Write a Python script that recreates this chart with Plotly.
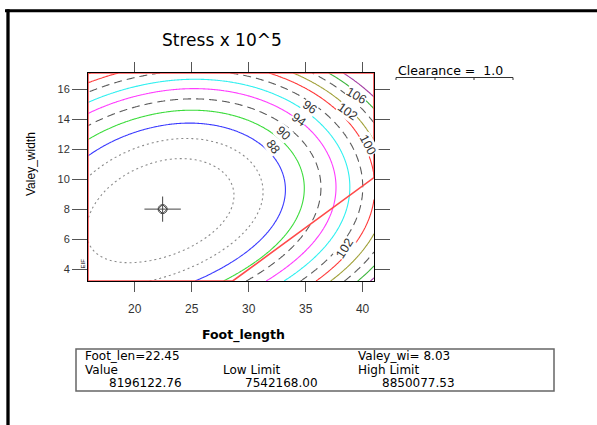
import numpy as np
import plotly.graph_objects as go

# ---------------- values ----------------
title_text = "Stress x 10^5"
x_title = "Foot_length"
y_title = "Valey_width"
x_range = [15.9, 41.0]
y_range = [3.24, 17.1]
x_ticks = [20, 25, 30, 35, 40]
y_ticks = [4, 6, 8, 10, 12, 14, 16]
clearance = 1.0

# flagged point (the optimum) and its read-out table
flag_foot_len = 22.45
flag_valey_wi = 8.03
flag_value = 8196122.76
flag_low = 7542168.00
flag_high = 8850077.53

# constraint line bounding the (red) design region
constraint_x = [28.6, 41.0]
constraint_y = [3.24, 10.13]

# contour levels (Stress x 10^5)
levels = [84, 86, 88, 90, 92, 94, 96, 98, 100, 102, 104, 106, 108]

# response model estimated from the traced contours:
# z = zmin + kx(dx)*dx^2 + ky(dx)*(y - ridge(dx))^2 ,  dx = x - x_opt
kx_left_right = [0.0454, 0.052]          # curvature along Foot_length (left / right of optimum)
ridge_coef = [0.179, -0.00545]           # valley centre line: linear, quadratic term
ky_coef = [0.194, 0.0035, -0.0001]       # curvature along Valey_width: const, linear, quadratic

# contour labels
label_levels = [88, 90, 96, 94, 102, 106, 100, 102]
label_x = [32.15, 33.0, 35.35, 34.45, 38.7, 39.5, 40.45, 38.45]
label_y = [12.17, 13.07, 14.85, 14.0, 14.5, 15.6, 12.3, 5.44]
label_angle = [55, 42, 35, 35, 35, 30, 62, -58]

# ---------------- response surface ----------------
gx = np.linspace(x_range[0], x_range[1], 251)
gy = np.linspace(y_range[0], y_range[1], 181)
GX, GY = np.meshgrid(gx, gy)
DX = GX - flag_foot_len
kx = 0.5 * (kx_left_right[0] + kx_left_right[1]) + \
    0.5 * (kx_left_right[1] - kx_left_right[0]) * np.tanh(DX / 2.0)
ridge = flag_valey_wi + ridge_coef[0] * DX + ridge_coef[1] * DX ** 2
ky = ky_coef[0] + ky_coef[1] * DX + ky_coef[2] * DX ** 2
GZ = flag_value / 1e5 + kx * DX ** 2 + ky * (GY - ridge) ** 2

# ---------------- styles ----------------
SANS = "Liberation Sans, Arial, Helvetica, sans-serif"
WIDE = "DejaVu Sans, Verdana, sans-serif"
DOT = "2px,3px"
DASH = "8px,5px"
styles = {
    84: ("#8a8a8a", DOT), 86: ("#8a8a8a", DOT), 88: ("#3a3aff", "solid"),
    90: ("#3cdc3c", "solid"), 92: ("#5a5a5a", DASH), 94: ("#ff3cff", "solid"),
    96: ("#30f0f0", "solid"), 98: ("#5a5a5a", DASH), 100: ("#ff3a3a", "solid"),
    102: ("#a0a038", "solid"), 104: ("#5a5a5a", DASH), 106: ("#3cb43c", "solid"),
    108: ("#a038a0", "solid"),
}

fig = go.Figure()
for lv in levels:
    col, dsh = styles[lv]
    fig.add_trace(go.Contour(
        x=gx, y=gy, z=GZ, autocontour=False,
        contours=dict(start=lv, end=lv, size=1, coloring="none"),
        line=dict(color=col, width=1.1, dash=dsh),
        showscale=False, hoverinfo="skip"))

# red boundary of the feasible design region
fig.add_trace(go.Scatter(
    x=[x_range[0], x_range[0], x_range[1], constraint_x[1], constraint_x[0], x_range[0]],
    y=[y_range[0], y_range[1], y_range[1], constraint_y[1], constraint_y[0], y_range[0]],
    mode="lines", line=dict(color="#ff4a4a", width=1.6), cliponaxis=False,
    hoverinfo="skip", showlegend=False))

# flag crosshair
for sym, size in [("line-ew-open", 26), ("line-ns-open", 18), ("circle-open", 9), ("diamond-open", 7)]:
    fig.add_trace(go.Scatter(
        x=[flag_foot_len], y=[flag_valey_wi], mode="markers",
        marker=dict(symbol=sym, size=size, color="#444444", line=dict(width=1, color="#444444")),
        hoverinfo="skip", showlegend=False))

# ---------------- layout ----------------
L, R, T, B = 88, 223, 73, 144
W, H = 597, 425


def PX(p):
    return (p - L) / (W - L - R)


def PY(p):
    return (H - B - p) / (H - T - B)


ann = []
for lv, lx, ly, la in zip(label_levels, label_x, label_y, label_angle):
    ann.append(dict(x=lx, y=ly, xref="x", yref="y", text=str(lv), showarrow=False,
                    textangle=la, font=dict(family=SANS, size=12.5, color="#333333"),
                    bgcolor="white", borderpad=0))

extra = [
    (222, 40, title_text, 17, "center", WIDE, 0),
    (243, 335, "<b>" + x_title + "</b>", 12.5, "center", WIDE, 0),
    (31, 164, y_title, 12, "center", SANS, -90),
    (396, 70, "Clearance =\u00a0 %.1f" % clearance, 12.5, "left", WIDE, 0),
    (82.5, 264, "EIF", 6, "center", SANS, -90),
    (83, 355.5, "Foot_len=%.2f" % flag_foot_len, 12, "left", WIDE, 0),
    (356, 355.5, "Valey_wi= %.2f" % flag_valey_wi, 12, "left", WIDE, 0),
    (83, 369.5, "Value", 12, "left", WIDE, 0),
    (220.5, 369.5, "Low Limit", 12, "left", WIDE, 0),
    (356, 369.5, "High Limit", 12, "left", WIDE, 0),
    (106.5, 383, "%.2f" % flag_value, 12, "left", WIDE, 0),
    (243, 383, "%.2f" % flag_low, 12, "left", WIDE, 0),
    (380, 383, "%.2f" % flag_high, 12, "left", WIDE, 0),
]
for (ax_, ay_, txt, sz, anc, fam, ang) in extra:
    ann.append(dict(x=PX(ax_), y=PY(ay_), xref="paper", yref="paper", text=txt,
                    showarrow=False, xanchor=anc, yanchor="middle", textangle=ang,
                    font=dict(family=fam, size=sz, color="black")))

shapes = [
    dict(type="line", xref="paper", yref="paper", x0=PX(5), x1=PX(597), y0=PY(10.7), y1=PY(10.7),
         line=dict(color="black", width=3)),
    dict(type="line", xref="paper", yref="paper", x0=PX(8), x1=PX(8), y0=PY(9.2), y1=PY(425),
         line=dict(color="black", width=3.3)),
    dict(type="rect", xref="paper", yref="paper", x0=PX(76), x1=PX(554), y0=PY(349), y1=PY(391),
         line=dict(color="#666666", width=1.5)),
    dict(type="line", xref="paper", yref="paper", x0=PX(396), x1=PX(513), y0=PY(77.5), y1=PY(77.5),
         line=dict(color="#333333", width=1)),
]
for tx in [396, 435, 474, 513]:
    shapes.append(dict(type="line", xref="paper", yref="paper", x0=PX(tx), x1=PX(tx),
                       y0=PY(77.5), y1=PY(80), line=dict(color="#333333", width=1)))

axis_common = dict(ticks="outside", tickwidth=1, tickcolor="#555555", showline=True,
                   linecolor="black", linewidth=1, mirror="ticks", showgrid=False,
                   zeroline=False)
fig.update_layout(
    width=W, height=H, margin=dict(l=L, r=R, t=T, b=B, pad=0, autoexpand=False),
    paper_bgcolor="white", plot_bgcolor="white", showlegend=False,
    xaxis=dict(range=x_range, tickvals=x_ticks, ticklen=10, ticklabelstandoff=7,
               tickfont=dict(family=SANS, size=12, color="#333333"), **axis_common),
    yaxis=dict(range=y_range, tickvals=y_ticks, ticklen=15, ticklabelstandoff=0,
               tickfont=dict(family=SANS, size=11, color="#333333"), **axis_common),
    annotations=ann, shapes=shapes, font=dict(family=SANS),
)
fig.write_html("out.html", config={"displayModeBar": False},
               post_script="document.body.style.margin='0px';")
